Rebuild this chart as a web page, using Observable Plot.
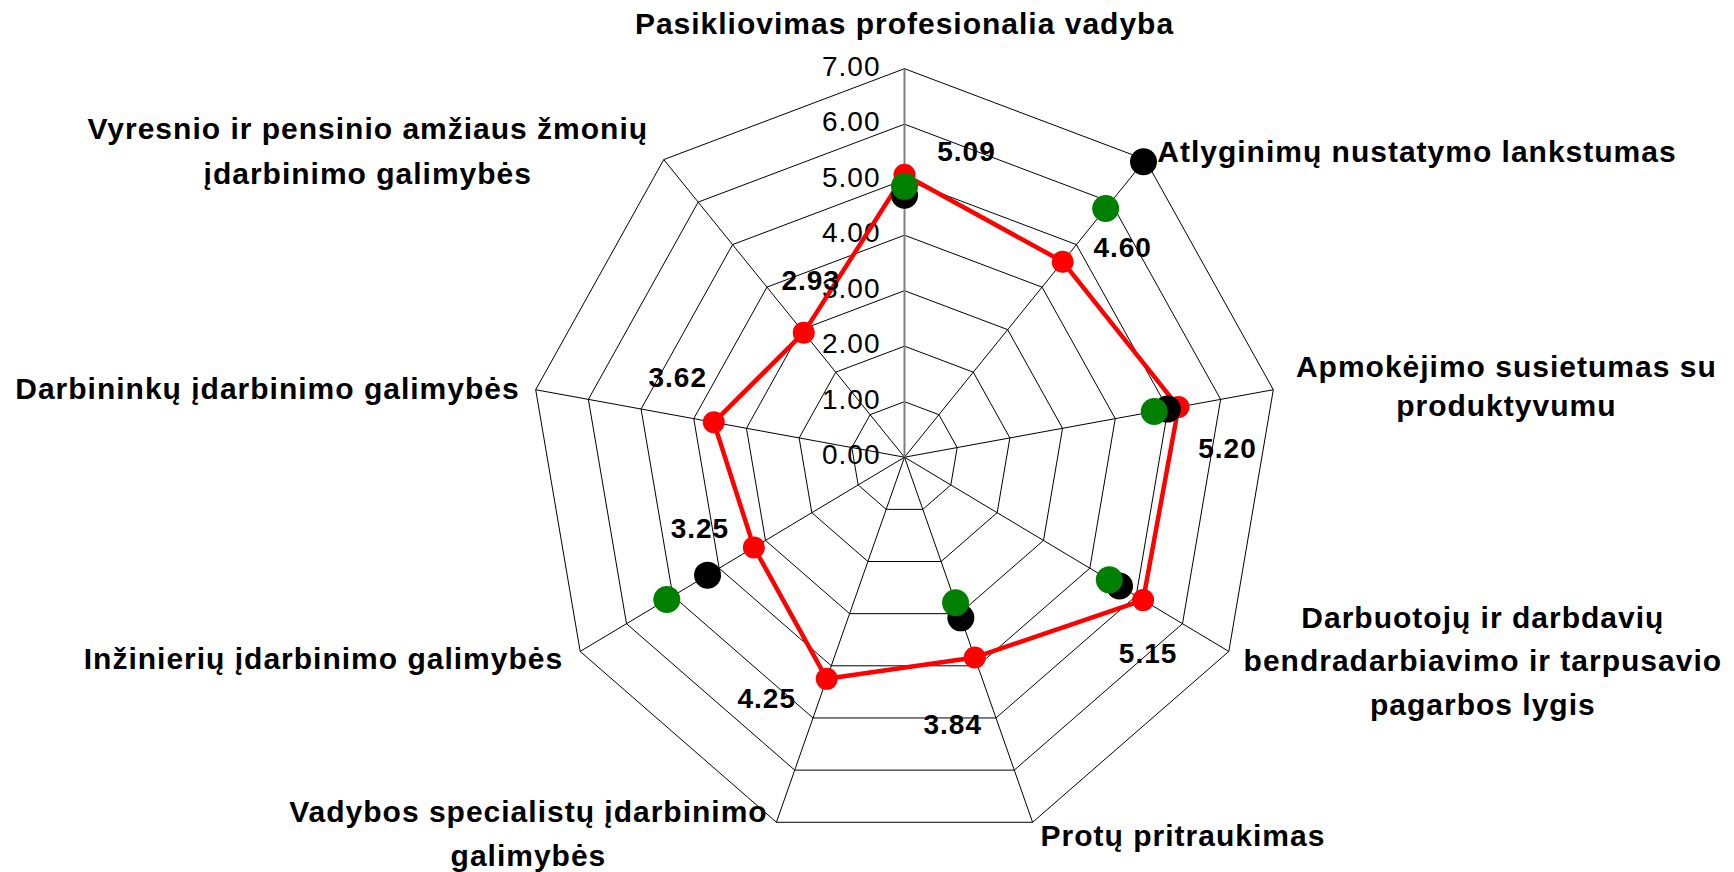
<!DOCTYPE html>
<html>
<head>
<meta charset="utf-8">
<script src="https://cdn.jsdelivr.net/npm/d3@7"></script>
<script src="https://cdn.jsdelivr.net/npm/@observablehq/plot@0.6"></script>
<style>
  html, body { margin: 0; padding: 0; background: #ffffff; }
  #chart svg { display: block; }
</style>
</head>
<body>
<div id="chart"></div>
<script>
// ---------- data ----------
const categories = [
  "Pasikliovimas profesionalia vadyba",
  "Atlyginimų nustatymo lankstumas",
  "Apmokėjimo susietumas su\nproduktyvumu",
  "Darbuotojų ir darbdavių\nbendradarbiavimo ir tarpusavio\npagarbos lygis",
  "Protų pritraukimas",
  "Vadybos specialistų įdarbinimo\ngalimybės",
  "Inžinierių įdarbinimo galimybės",
  "Darbininkų įdarbinimo galimybės",
  "Vyresnio ir pensinio amžiaus žmonių\nįdarbinimo galimybės"
];
const seriesRed   = [5.09, 4.60, 5.20, 5.15, 3.84, 4.25, 3.25, 3.62, 2.93];
const seriesBlack = [4.72, 6.95, 4.99, 4.64, 3.08, null, 4.25, null, null];
const seriesGreen = [4.88, 5.85, 4.74, 4.42, 2.79, null, 5.13, null, null];
const tickValues  = [0, 1, 2, 3, 4, 5, 6, 7];
const tickLabels  = ["0.00", "1.00", "2.00", "3.00", "4.00", "5.00", "6.00", "7.00"];
const valueLabels = ["5.09", "4.60", "5.20", "5.15", "3.84", "4.25", "3.25", "3.62", "2.93"];

// ---------- layout ----------
const W = 1734, H = 872;
const CX = 904, CY = 456.7;      // pixel centre of the radar
const PX = 53.5, PY = 55.5;      // pixels per unit horizontally / vertically
const RMAX = 7;
const N = categories.length;
const FONT = "'Liberation Sans', Arial, Helvetica, sans-serif";

const ang = i => (i % N) * 2 * Math.PI / N;
const pt = (v, i) => ({x: v * Math.sin(ang(i)), y: v * Math.cos(ang(i))});

// rings
const ringData = [];
for (const k of tickValues.filter(d => d > 0)) {
  for (let i = 0; i <= N; i++) ringData.push({k, ...pt(k, i)});
}
// spokes
const spokes = categories.map((c, i) => {
  const p = pt(RMAX, i);
  return {x1: 0, y1: 0, x2: p.x, y2: p.y, main: i === 0};
});

const seriesPts = s => s.map((v, i) => v == null ? null : {i, v, ...pt(v, i)}).filter(d => d);
const redPts = seriesPts(seriesRed);
const redClosed = [...redPts, redPts[0]];
const blackPts = seriesPts(seriesBlack);
const greenPts = seriesPts(seriesGreen);

// offsets (px) of value labels from their red points
const valueOffsets = [[62, -23], [60, -14], [49, 42], [5, 54], [-22, 68], [-60, 20], [-54, -18], [-36, -44], [7, -52]];

// category label placement relative to outer vertex
const catLayout = [
  {anchor: "middle", dx: 0,    dy: -48,  lh: 1.4},
  {anchor: "start",  dx: 12,   dy: -11,  lh: 1.4},
  {anchor: "middle", dx: 233,  dy: -6,   lh: 1.33},
  {anchor: "middle", dx: 254,  dy: 6,    lh: 1.45},
  {anchor: "start",  dx: 8,    dy: 10,   lh: 1.4},
  {anchor: "middle", dx: -248, dy: 8,    lh: 1.45},
  {anchor: "end",    dx: -17,  dy: 4,    lh: 1.4},
  {anchor: "end",    dx: -16,  dy: -4,   lh: 1.4},
  {anchor: "middle", dx: -296, dy: -12,  lh: 1.5}
];

const marks = [];
// grid
marks.push(Plot.line(ringData, {x: "x", y: "y", z: "k", stroke: "#000", strokeWidth: 1}));
marks.push(Plot.link(spokes.filter(d => !d.main), {x1: "x1", y1: "y1", x2: "x2", y2: "y2", stroke: "#000", strokeWidth: 1}));
marks.push(Plot.link(spokes.filter(d => d.main), {x1: "x1", y1: "y1", x2: "x2", y2: "y2", stroke: "#808080", strokeWidth: 2}));
// tick labels
marks.push(Plot.text(tickValues.map((v, j) => ({x: 0, y: v, t: tickLabels[j]})), {
  x: "x", y: "y", text: "t", textAnchor: "end", dx: -24, dy: -2,
  fontSize: 28, fontFamily: FONT, fill: "#000"
}));
// series
marks.push(Plot.line(redClosed, {x: "x", y: "y", stroke: "#ff0000", strokeWidth: 4.5, strokeLinejoin: "round"}));
marks.push(Plot.dot(redPts, {x: "x", y: "y", r: 11, fill: "#ff0000"}));
marks.push(Plot.dot(blackPts, {x: "x", y: "y", r: 13.5, fill: "#000000"}));
marks.push(Plot.dot(greenPts, {x: "x", y: "y", r: 13.5, fill: "#008000"}));
// value labels
redPts.forEach(d => {
  marks.push(Plot.text([{...d, t: valueLabels[d.i]}], {
    x: "x", y: "y", text: "t", dx: valueOffsets[d.i][0], dy: valueOffsets[d.i][1],
    fontSize: 28, fontWeight: "bold", fontFamily: FONT, fill: "#000"
  }));
});
// category labels
categories.forEach((c, i) => {
  const p = pt(RMAX, i);
  const L = catLayout[i];
  marks.push(Plot.text([{...p, t: c}], {
    x: "x", y: "y", text: "t", textAnchor: L.anchor, lineAnchor: "middle",
    dx: L.dx, dy: L.dy, lineHeight: L.lh,
    fontSize: 30, fontWeight: "bold", fontFamily: FONT, fill: "#000"
  }));
});

const chart = Plot.plot({
  width: W, height: H, margin: 0,
  style: {background: "#ffffff", fontFamily: FONT, letterSpacing: "1px", overflow: "visible"},
  x: {domain: [-CX / PX, (W - CX) / PX], axis: null},
  y: {domain: [(CY - H) / PY, CY / PY], axis: null},
  marks
});
document.getElementById("chart").appendChild(chart);
</script>
</body>
</html>
